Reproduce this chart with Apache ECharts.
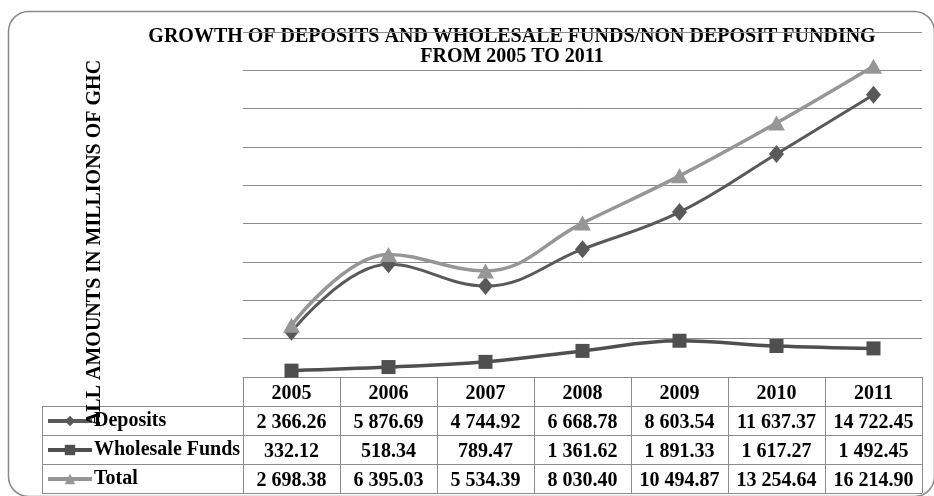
<!DOCTYPE html>
<html>
<head>
<meta charset="utf-8">
<script src="https://cdn.jsdelivr.net/npm/echarts@6/dist/echarts.min.js"></script>
<style>
  html, body { margin: 0; padding: 0; background: #fff; }
  #chart { width: 934px; height: 496px; }
</style>
</head>
<body>
<div id="chart"></div>
<script>
const years = ['2005', '2006', '2007', '2008', '2009', '2010', '2011'];
const deposits = [2366.26, 5876.69, 4744.92, 6668.78, 8603.54, 11637.37, 14722.45];
const wholesale = [332.12, 518.34, 789.47, 1361.62, 1891.33, 1617.27, 1492.45];
const total = [2698.38, 6395.03, 5534.39, 8030.40, 10494.87, 13254.64, 16214.90];
const seriesNames = ['Deposits', 'Wholesale Funds', 'Total'];
const titleText = 'GROWTH OF DEPOSITS AND WHOLESALE FUNDS/NON DEPOSIT FUNDING\nFROM 2005 TO 2011';
const yTitle = 'ALL AMOUNTS IN MILLIONS OF GHC';

function fmt(v) {
  const parts = v.toFixed(2).split('.');
  parts[0] = parts[0].replace(/\B(?=(\d{3})+(?!\d))/g, ' ');
  return parts.join('.');
}

const FONT = "'Liberation Serif', 'Times New Roman', serif";
const BORDER = '#8c8c8c';
const chart = echarts.init(document.getElementById('chart'), null, { renderer: 'canvas' });

const L = 42, PL = 243, R = 922, T0 = 377, RH = 29;
const hLine = (x1, y, x2) => ({ type: 'line', silent: true, z: 5,
  shape: { x1: x1, y1: y + 0.5, x2: x2, y2: y + 0.5 }, style: { stroke: BORDER, lineWidth: 1 } });
const vLine = (x, y1, y2) => ({ type: 'line', silent: true, z: 5,
  shape: { x1: x + 0.5, y1: y1, x2: x + 0.5, y2: y2 }, style: { stroke: BORDER, lineWidth: 1 } });

const legends = seriesNames.map((n, i) => ({
  data: [n],
  orient: 'vertical',
  left: 46, top: T0 + RH * (i + 1) + 5, padding: 0,
  itemWidth: 44, itemHeight: 13, itemGap: 0,
  lineStyle: { width: 4 },
  textStyle: { fontFamily: FONT, fontWeight: 'bold', fontSize: 20, lineHeight: 20, color: '#000', padding: [0, 0, 0, -3] }
}));

chart.setOption({
  animation: false,
  backgroundColor: '#fff',
  grid: { left: PL, right: 934 - R, top: 32, bottom: 496 - T0, containLabel: false },
  legend: legends,
  xAxis: {
    type: 'category',
    data: years,
    boundaryGap: true,
    axisLine: { show: true, lineStyle: { color: BORDER, width: 1 } },
    axisTick: { show: true, interval: 0, length: RH * 4, lineStyle: { color: BORDER, width: 1 } },
    axisLabel: {
      interval: 0, margin: 2,
      fontFamily: FONT, fontWeight: 'bold', fontSize: 20, color: '#000', lineHeight: RH,
      formatter: (v, i) => [v, fmt(deposits[i]), fmt(wholesale[i]), fmt(total[i])].join('\n')
    },
    splitLine: { show: false }
  },
  yAxis: {
    type: 'value', min: 0, max: 18000, interval: 2000,
    axisLabel: { show: false }, axisLine: { show: false }, axisTick: { show: false },
    splitLine: { show: true, lineStyle: { color: BORDER, width: 1 } }
  },
  series: [
    { name: seriesNames[0], type: 'line', data: deposits, smooth: 0.4,
      symbol: 'diamond', symbolSize: [15, 18],
      lineStyle: { color: '#595959', width: 3 }, itemStyle: { color: '#595959' }, z: 4 },
    { name: seriesNames[1], type: 'line', data: wholesale, smooth: 0.4,
      symbol: 'rect', symbolSize: 14,
      lineStyle: { color: '#4f4f4f', width: 3.5 }, itemStyle: { color: '#4f4f4f' }, z: 3 },
    { name: seriesNames[2], type: 'line', data: total, smooth: 0.4,
      symbol: 'triangle', symbolSize: [17, 15],
      lineStyle: { color: '#969696', width: 3.5 }, itemStyle: { color: '#969696' }, z: 5 }
  ],
  graphic: [
    { type: 'rect', silent: true, z: -20,
      shape: { x: 8.5, y: 11.5, width: 926, height: 485, r: 20 },
      style: { fill: 'none', stroke: '#8a8a8a', lineWidth: 1.5 } },
    { type: 'text', silent: true, z: -10, x: 512, y: 27,
      style: { text: titleText, align: 'center', verticalAlign: 'top', lineHeight: 20,
        font: "bold 20px 'Liberation Serif'", fill: '#000' } },
    { type: 'text', silent: true, z: 10, x: 95, y: 243, rotation: Math.PI / 2,
      style: { text: yTitle, align: 'center', verticalAlign: 'middle',
        font: "bold 20px 'Liberation Serif'", fill: '#000' } },
    hLine(L, T0 + RH, R), hLine(L, T0 + RH * 2, R), hLine(L, T0 + RH * 3, R), hLine(L, T0 + RH * 4, R),
    vLine(L, T0 + RH, T0 + RH * 4 + 1)
  ]
});
</script>
</body>
</html>
